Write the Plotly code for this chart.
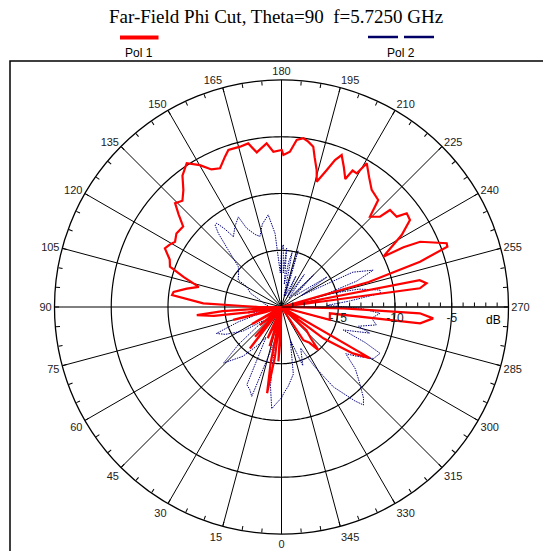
import numpy as np
import plotly.graph_objects as go

W, H = 543, 551
CX, CY, R = 281.5, 307, 227  # polar centre / radius in screen pixels


def px(x):
    return x / W


def py(y):
    return 1 - y / H


# Pol 1 (red) - phi in degrees, level in dB (center = -20 dB or below)
POL1_DEG = [0, 2, 3.3, 4.5, 7.5, 9.5, 11, 12.5, 15.5, 17, 18.5, 22, 24, 26, 35, 37.3, 39.5, 41.7, 44,
            48, 50, 52, 58, 60, 62, 72, 75, 77, 81, 82.5, 84.5, 86, 88, 90, 91.5, 92.7, 96.2, 98, 101,
            103.7, 107, 109.9, 113, 116.7, 119, 121.5, 125, 129.3, 132, 134.3, 137, 140, 143, 146.6,
            150.1, 153, 156.1, 159.4, 161.3, 165.5, 168.5, 170.9, 174.8, 177, 180.1, 180.7, 183.1,
            185.2, 187.4, 189.2, 191.2, 192.5, 194.4, 195.7, 198.3, 200, 201.6, 204, 206.5, 207.5,
            209.4, 210.7, 214, 217.6, 222.1, 224.4, 227.5, 228.2, 231.9, 233.2, 235.9, 239.1, 243.7,
            243.9, 244.8, 248.9, 250, 251.9, 254, 256, 258.5, 259, 260.7, 262.3, 264, 270.5, 271.2,
            272.6, 274.3, 276.7, 277.4, 285, 288, 299.5, 300, 303, 306.8, 309, 311, 313, 317, 319.4,
            322, 326.6, 329, 360]
POL1_DB = [-20, -17, -15.2, -20, -15.5, -12.3, -15, -20, -18, -16.4, -20, -18, -17, -20, -19, -15.4,
           -19, -16.5, -20, -18.5, -17.5, -20, -18.5, -17, -20, -18.5, -15.6, -20, -17, -14, -12.5,
           -14.8, -20, -18, -16.6, -13.1, -10.3, -10.4, -11.5, -12.5, -11, -9.55, -9.3, -8.5, -8.7,
           -9.0, -8.7, -8.8, -7.8, -6.9, -7.2, -6.55, -5.5, -4.83, -5.58, -6.4, -6.63, -5.85, -5.4,
           -5.41, -5.29, -6.2, -5.52, -6.3, -6.17, -6.6, -6.3, -5.22, -5.01, -5.24, -5.6, -6.5,
           -7.54, -8.53, -7.29, -6.22, -5.6, -6.5, -7.4, -6.44, -6.48, -5.28, -6.2, -6.98, -7.29,
           -8.86, -8.23, -7.18, -7.1, -6.22, -6.33, -7.66, -10, -8.03, -6.5, -4.4, -4.45, -7.16, -12,
           -20, -20, -7.6, -7.05, -7.7, -20, -20, -14.5, -7.8, -6.6, -7.7, -15.7, -15.6, -20, -20,
           -11, -12.5, -15.4, -20, -20, -17, -16.2, -15, -16, -16.5, -20, -20]

# Pol 2 (navy, dotted)
POL2_DEG = [0, 3, 5.5, 8, 11, 14, 18.4, 21, 24, 27, 32, 38, 45.9, 49, 53, 58, 64, 67.9, 71, 75, 80,
            85, 90, 100, 108, 114, 120.3, 122, 128, 133, 137, 139.4, 141, 142.3, 144, 145.6, 150,
            154.4, 156.1, 160, 163, 167, 171.8, 175, 178, 180, 181.7, 183, 185, 187, 189, 191, 193,
            196.4, 199, 205, 210, 215, 220, 225, 230, 236.6, 240, 244, 248.1, 251, 254, 257, 260.2,
            262.1, 265, 268, 271, 273.7, 277, 280.7, 284, 286.5, 290.4, 293, 295.2, 299.2, 303, 306,
            310, 314.2, 318, 320.1, 322, 327, 331, 335, 340, 345, 350, 355.1, 358, 360]
POL2_DB = [-12, -11.5, -11.0, -13, -17, -16, -11.7, -12.2, -12.5, -17, -16, -14.5, -12.9, -15, -18,
           -16, -14.5, -13.8, -16, -18.5, -17, -18, -19, -18.5, -18, -17, -16.45, -15.5, -15.2,
           -14.8, -13.1, -11.45, -10.7, -10.67, -11.5, -12.5, -11.8, -11.2, -12.4, -13.2, -13.5,
           -12.5, -11.8, -13.5, -17, -15, -14.5, -17, -14.8, -18, -16, -15.1, -19, -14.8, -19, -17,
           -19, -16.5, -19, -16, -18.5, -15.2, -18, -13, -11.3, -13, -16, -13, -11.2, -11.2, -14,
           -16, -13, -11.3, -12, -11.5, -13, -11.9, -14.2, -12, -10.4, -10.7, -12, -13, -11.5,
           -10.4, -9.2, -8.75, -9.5, -11.6, -14, -16, -14.5, -17, -14, -13, -12.5, -12]

RING_DB = [-15, -10, -5]
SPOKE_DEG = list(range(0, 360, 15))
ANG_TICKS = list(range(0, 360, 5))
RAD_TICKS = list(range(-19, 0))
RAD_LABELS = {-15: "-15", -10: "-10", -5: "-5"}

fig = go.Figure()

# grid: spokes every 15 deg and dB rings
for a in SPOKE_DEG:
    fig.add_trace(go.Scatterpolar(r=[-20, 0], theta=[a, a], mode="lines",
                                  line=dict(color="black", width=1), hoverinfo="skip", showlegend=False))
ring_theta = np.arange(0, 361, 1)
for rr in RING_DB:
    fig.add_trace(go.Scatterpolar(r=[rr] * len(ring_theta), theta=ring_theta, mode="lines",
                                  line=dict(color="black", width=1.2), hoverinfo="skip", showlegend=False))

fig.add_trace(go.Scatterpolar(r=POL2_DB, theta=POL2_DEG, mode="lines", name="Pol 2",
                              line=dict(color="#000080", width=1, dash="1.5px,1px"), showlegend=False))
fig.add_trace(go.Scatterpolar(r=POL1_DB, theta=POL1_DEG, mode="lines", name="Pol 1",
                              line=dict(color="#ff0000", width=2.2), showlegend=False))

tick_font = dict(family="Liberation Sans, Arial, sans-serif", size=11, color="#222222")

fig.update_layout(
    width=W, height=H,
    margin=dict(l=0, r=0, t=0, b=0),
    paper_bgcolor="white",
    showlegend=False,
    polar=dict(
        domain=dict(x=[px(CX - R), px(CX + R)], y=[py(CY + R), py(CY - R)]),
        bgcolor="white",
        angularaxis=dict(
            rotation=270, direction="clockwise",
            tickmode="array", tickvals=ANG_TICKS,
            ticktext=[str(a) if a % 15 == 0 else "" for a in ANG_TICKS],
            ticks="inside", ticklen=4, tickcolor="black",
            showgrid=False, showline=True, linecolor="black", linewidth=1.3,
            tickfont=tick_font,
        ),
        radialaxis=dict(
            range=[-20, 0], angle=0, side="clockwise",
            tickmode="array", tickvals=RAD_TICKS,
            ticktext=[RAD_LABELS.get(v, "") for v in RAD_TICKS],
            ticks="inside", ticklen=4, tickcolor="black",
            showgrid=False, showline=True, linecolor="black", linewidth=1,
            tickfont=dict(family="Liberation Sans, Arial, sans-serif", size=12, color="#222222"),
        ),
    ),
)

# frame
fig.add_shape(type="rect", xref="paper", yref="paper", x0=px(10), x1=1.1, y0=-0.1, y1=py(61),
              line=dict(color="black", width=1.5), fillcolor="rgba(0,0,0,0)", layer="below")

# legend
fig.add_shape(type="line", xref="paper", yref="paper", x0=px(120), x1=px(158.5),
              y0=py(37.5), y1=py(37.5), line=dict(color="#ff0000", width=4))
for x0, x1 in [(368, 398), (404, 434)]:
    fig.add_shape(type="line", xref="paper", yref="paper", x0=px(x0), x1=px(x1),
                  y0=py(37), y1=py(37), line=dict(color="#000066", width=2.5))

legend_font = dict(family="Liberation Sans, Arial, sans-serif", size=12, color="black")
for x, y, txt in [(139, 53, "Pol 1"), (401, 53, "Pol 2"), (493, 320, "dB")]:
    fig.add_annotation(x=px(x), y=py(y), xref="paper", yref="paper", text=txt, showarrow=False,
                       xanchor="center", yanchor="middle", font=legend_font)

# title
fig.add_annotation(x=px(275.5), y=py(16), xref="paper", yref="paper", xanchor="center", yanchor="middle",
                   text="Far-Field Phi Cut, Theta=90  f=5.7250 GHz", showarrow=False, borderpad=0,
                   font=dict(family="Liberation Serif, Times New Roman, serif", size=19, color="black"))

# the page keeps no body margin so the figure fills the window exactly
fig.write_html("out.html", config={"displayModeBar": False},
               post_script="document.body.style.margin = '0px';")
